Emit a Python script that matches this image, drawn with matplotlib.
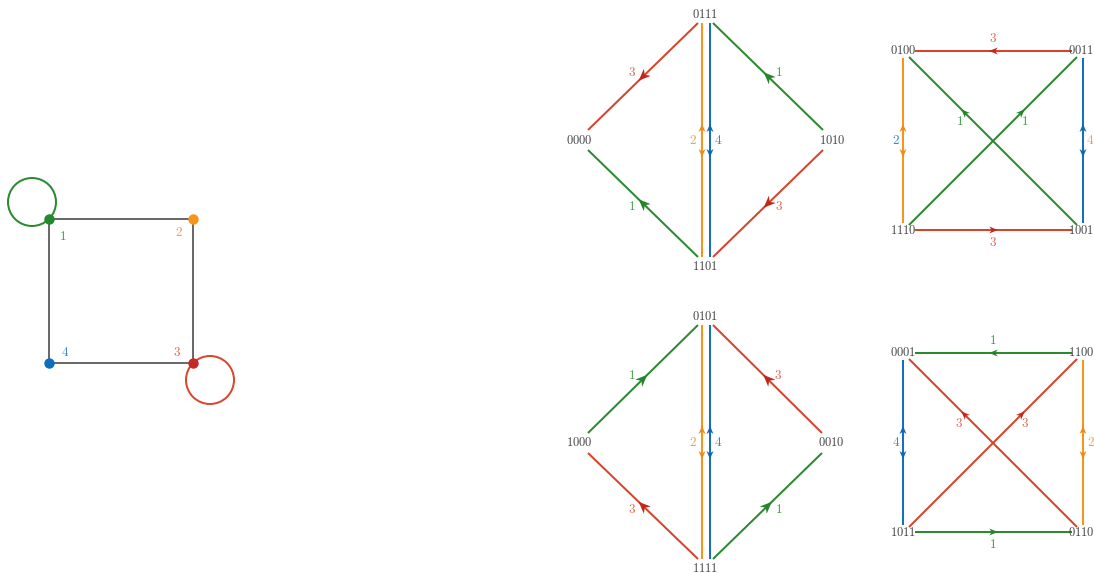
import matplotlib
matplotlib.use('Agg')
import matplotlib.pyplot as plt
from matplotlib.patches import Polygon, Circle
import numpy as np

plt.rcParams['mathtext.fontset'] = 'cm'

# ------------------------------------------------------------------ data
base_vertices = ['1', '2', '3', '4']
base_edges = [('1', '2'), ('2', '3'), ('3', '4'), ('4', '1')]
base_loops = ['1', '3']

# diamond panels: nodes (top, left, right, bottom); directed edges (source, target, label)
diamond_a_nodes = ['0111', '0000', '1010', '1101']
diamond_a_edges = [('0111', '0000', '3'), ('1010', '0111', '1'),
                   ('1101', '0000', '1'), ('1010', '1101', '3')]
diamond_a_bidir = [('2', '2'), ('4', '4')]          # (edge key, label colour key)

diamond_c_nodes = ['0101', '1000', '0010', '1111']
diamond_c_edges = [('1000', '0101', '1'), ('0010', '0101', '3'),
                   ('1111', '1000', '3'), ('1111', '0010', '1')]
diamond_c_bidir = [('2', '2'), ('4', '4')]

# square panels: nodes (top-left, top-right, bottom-left, bottom-right)
square_b_nodes = ['0100', '0011', '1110', '1001']
square_b_edges = [('0011', '0100', '3'), ('1110', '1001', '3'),
                  ('1001', '0100', '1'), ('1110', '0011', '1')]
square_b_bidir = [('0100', '1110', '2', '4'), ('0011', '1001', '4', '2')]  # (a, b, edge key, label colour key)

square_d_nodes = ['0001', '1100', '1011', '0110']
square_d_edges = [('1100', '0001', '1'), ('1011', '0110', '1'),
                  ('0110', '0001', '3'), ('1011', '1100', '3')]
square_d_bidir = [('0001', '1011', '4', '4'), ('1100', '0110', '2', '2')]

# ------------------------------------------------------------------ style
LINE = {'1': '#2b8a2f', '2': '#f7941d', '3': '#d6442b', '4': '#1470bf'}
HEAD = {'1': '#24852a', '2': '#f08a12', '3': '#c0281c', '4': '#0f66b3'}
TEXT = {'1': '#3b9c3f', '2': '#f8a03e', '3': '#e0684e', '4': '#3b86cf'}
NODE = {'1': '#23882e', '2': '#f7941d', '3': '#c62828', '4': '#0d6ebd'}
VTXT = '#444444'
LW = 1.45

fig = plt.figure(figsize=(10.94, 5.73), dpi=100)
ax = fig.add_axes([0, 0, 1, 1])
ax.set_xlim(0, 1094)
ax.set_ylim(573, 0)
ax.set_aspect('equal')
ax.axis('off')


def tex(s):
    return r'$\mathrm{' + s + '}$'


def head(p, d, key, L=12.0, W=10.0):
    p = np.asarray(p, float)
    d = np.asarray(d, float)
    u = d / np.hypot(*d)
    n = np.array([-u[1], u[0]])
    tip = p + u * L / 2
    back = p - u * L / 2
    notch = p - u * L / 5
    pts = [tip, back + n * W / 2, notch, back - n * W / 2]
    ax.add_patch(Polygon(pts, closed=True, facecolor=HEAD[key], edgecolor='none', zorder=4))


def seg(a, b, key):
    ax.plot([a[0], b[0]], [a[1], b[1]], color=LINE[key], lw=LW,
            solid_capstyle='butt', zorder=3)


def label(x, y, s, color, fs=9.5):
    ax.text(x, y, tex(s), color=color, fontsize=fs, ha='center', va='center', zorder=5)


# ------------------------------------------------------------------ base graph
bpos = dict(zip(base_vertices, [(49, 219), (193, 219), (193, 363), (49, 363)]))
loop_off = {'1': (-17, -17), '3': (17, 17)}
lab_off = {'1': (14, 17), '2': (-14, 13), '3': (-16, -10), '4': (16, -10)}
for s, t in base_edges:
    ax.plot([bpos[s][0], bpos[t][0]], [bpos[s][1], bpos[t][1]], color='#666666',
            lw=1.4, zorder=2)
for v in base_loops:
    c = (bpos[v][0] + loop_off[v][0], bpos[v][1] + loop_off[v][1])
    ax.add_patch(Circle(c, 24, fill=False, edgecolor=LINE[v] if v == '1' else '#d9472f',
                        lw=LW, zorder=2))
for v in base_vertices:
    ax.plot(*bpos[v], 'o', ms=7.5, color=NODE[v], mec='none', zorder=4)
    label(bpos[v][0] + lab_off[v][0], bpos[v][1] + lab_off[v][1], v, TEXT[v], fs=9.5)


# ------------------------------------------------------------------ diamonds
def diamond(nodes, edges, bidir, cx, yt, ym, yb, xl, xr):
    roles = dict(zip(nodes, ['top', 'left', 'right', 'bottom']))
    tpos = {'top': (cx, yt), 'left': (xl, ym), 'right': (xr, ym), 'bottom': (cx, yb)}
    for n, r in roles.items():
        ax.text(*tpos[r], tex(n), color=VTXT, fontsize=9, ha='center', va='center', zorder=5)

    def port(r, other):
        side = 'left' if 'left' in (r, other) else 'right'
        sx = -1 if side == 'left' else 1
        if r == 'top':
            return (cx + sx * 7.5, yt + 8)
        if r == 'bottom':
            return (cx + sx * 7.5, yb - 9)
        vert = 'top' if 'top' in (r, other) else 'bottom'
        sy = -1 if vert == 'top' else 1
        x = xl + 9 if r == 'left' else xr - 9
        return (x, ym + sy * 10)

    for s, t, k in edges:
        rs, rt = roles[s], roles[t]
        a, b = np.array(port(rs, rt)), np.array(port(rt, rs))
        seg(a, b, k)
        m = (a + b) / 2
        head(m, b - a, k)
        sx = -1 if 'left' in (rs, rt) else 1
        sy = -1 if 'top' in (rs, rt) else 1
        label(m[0] + sx * 11, m[1] + sy * 3.5, k, TEXT[k])
    offs = {'2': -3.5, '4': 4.5}
    loffs = {'2': -12.5, '4': 13}
    for k, lk in bidir:
        x = cx + offs[k]
        seg((x, yt + 8), (x, yb - 9), k)
        yc = (yt + 8 + yb - 9) / 2
        head((x, yc - 12), (0, -1), k, L=8, W=7)
        head((x, yc + 13), (0, 1), k, L=8, W=7)
        label(cx + loffs[k], yc, k, TEXT[lk])


diamond(diamond_a_nodes, diamond_a_edges, diamond_a_bidir, 705.5, 15, 140, 266, 579, 832)
diamond(diamond_c_nodes, diamond_c_edges, diamond_c_bidir, 705.5, 317, 443, 568, 579, 831)


# ------------------------------------------------------------------ squares
def square(nodes, edges, bidir, xl, xr, yt, yb):
    roles = dict(zip(nodes, ['tl', 'tr', 'bl', 'br']))
    pos = {'tl': (xl, yt), 'tr': (xr, yt), 'bl': (xl, yb), 'br': (xr, yb)}
    for n, r in roles.items():
        tx = pos[r][0] - (1.5 if r[1] == 'r' else 0)
        ax.text(tx, pos[r][1], tex(n), color=VTXT, fontsize=9, ha='center', va='center', zorder=5)
    xm = (xl + xr) / 2
    for s, t, k in edges:
        rs, rt = roles[s], roles[t]
        if rs[0] == rt[0]:  # horizontal
            y = pos[rs][1]
            a = np.array([xl + 12 if rs[1] == 'l' else xr - 11, y])
            b = np.array([xl + 12 if rt[1] == 'l' else xr - 11, y])
            seg(a, b, k)
            head(((a[0] + b[0]) / 2, y), b - a, k, L=8.5, W=7)
            label(xm, y + (-13 if rs[0] == 't' else 13), k, TEXT[k])
        else:  # diagonal
            def port(r):
                x = pos[r][0] + (6 if r[1] == 'l' else -6)
                y = pos[r][1] + (6 if r[0] == 't' else -5)
                return np.array([x, y])
            a, b = port(rs), port(rt)
            top, bot = (a, b) if a[1] < b[1] else (b, a)
            m = top + 0.33 * (bot - top)
            head(m, b - a, k, L=8.5, W=7)
            seg(a, b, k)
            lx = -5 if top[0] < bot[0] else 3
            label(m[0] + lx, m[1] + 9, k, TEXT[k])
    for s, t, k, lk in bidir:
        x = pos[roles[s]][0]
        seg((x, yt + 6.5), (x, yb - 7), k)
        yc = (yt + yb) / 2
        head((x, yc - 12.5), (0, -1), k, L=8, W=7)
        head((x, yc + 12.5), (0, 1), k, L=8, W=7)
        label(x + (-7 if x == xl else 7.5), yc, k, TEXT[lk])


square(square_b_nodes, square_b_edges, square_b_bidir, 903, 1083, 51, 230)
square(square_d_nodes, square_d_edges, square_d_bidir, 903, 1083, 353, 532)

fig.savefig('out.png', dpi=100)
